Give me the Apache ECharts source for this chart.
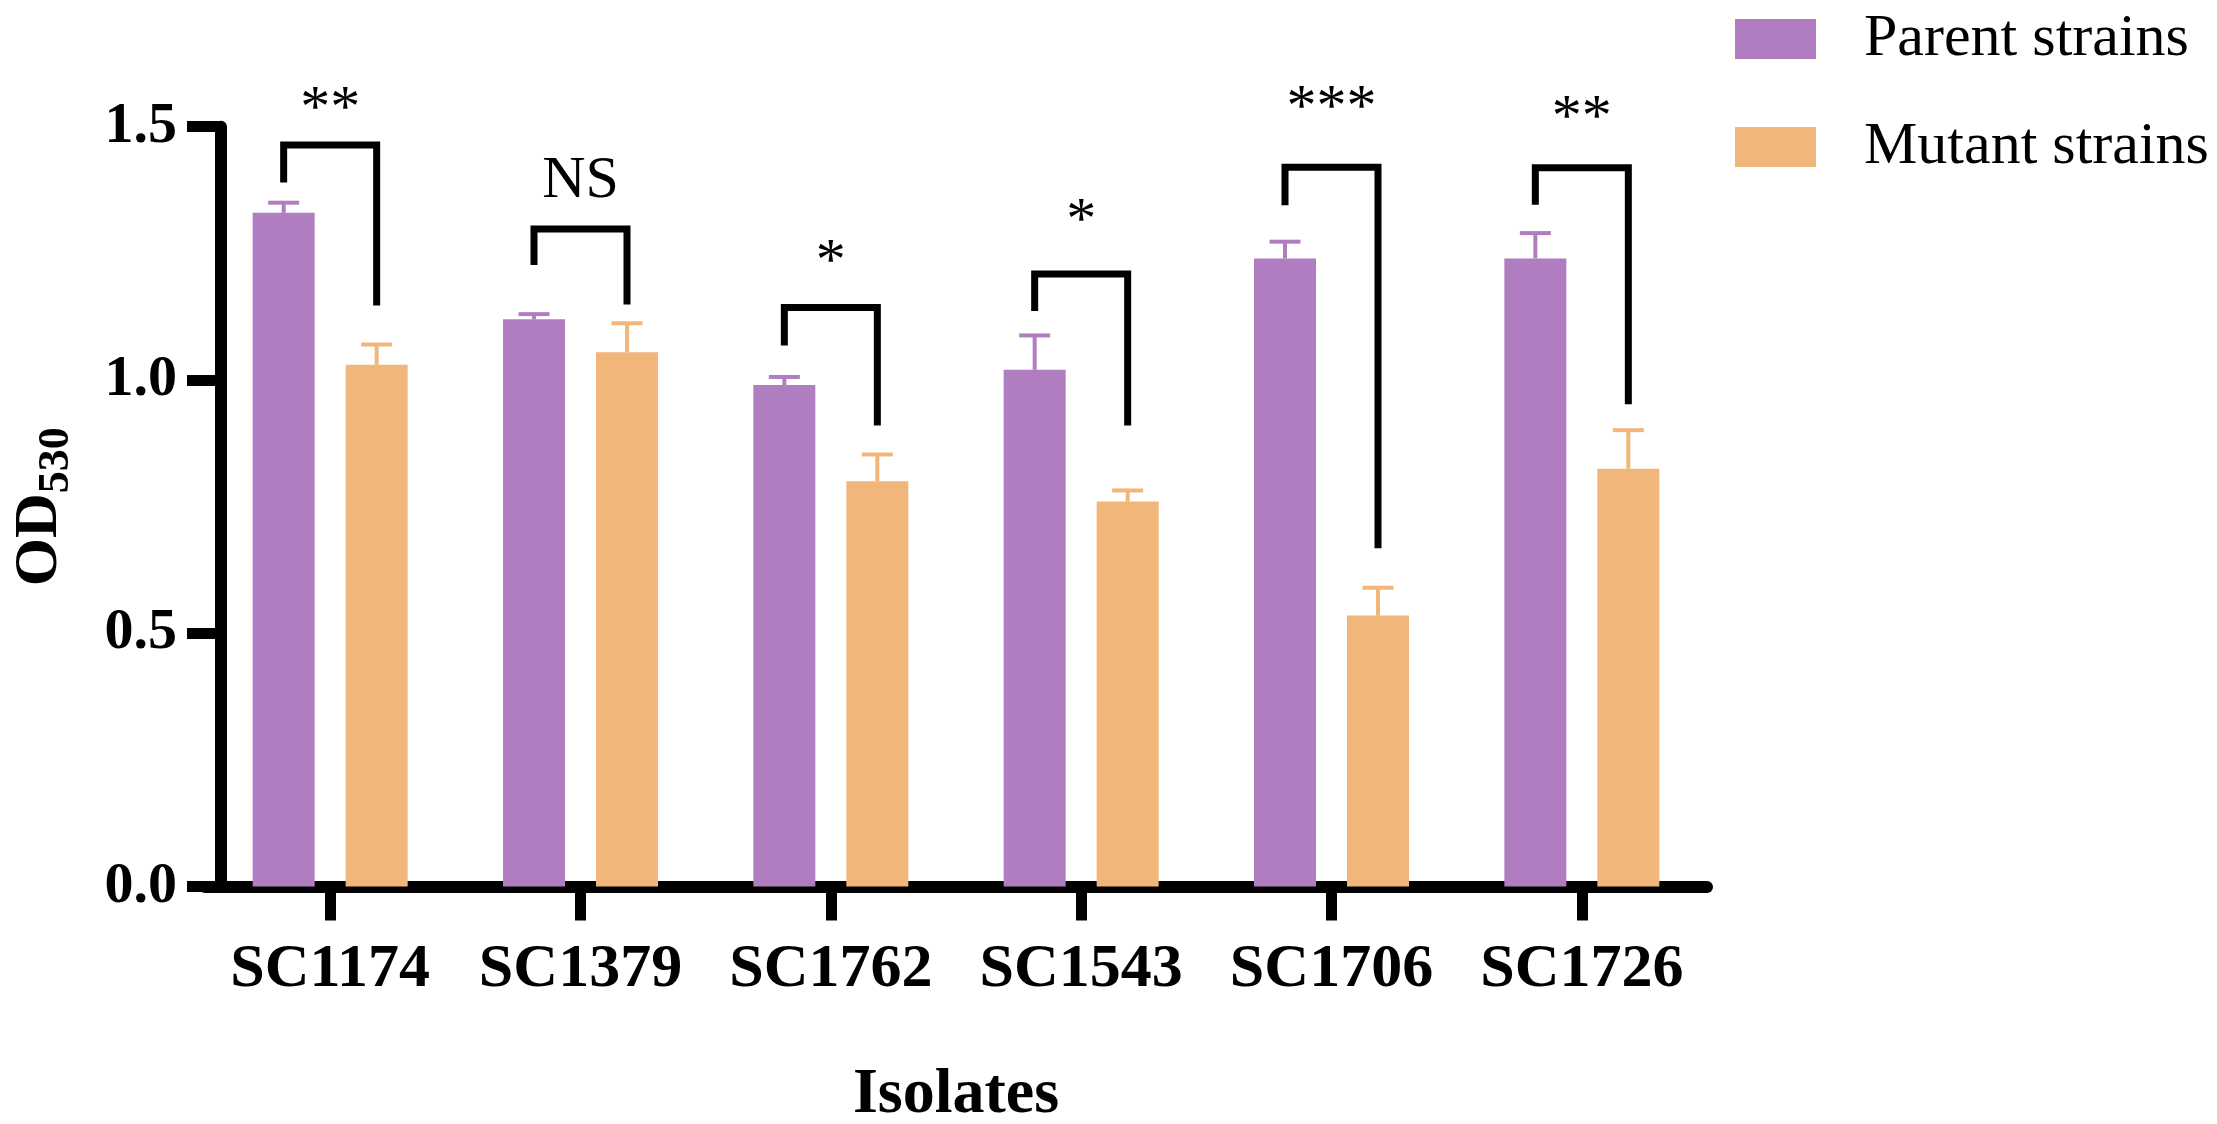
<!DOCTYPE html>
<html>
<head>
<meta charset="utf-8">
<script src="https://cdn.jsdelivr.net/npm/echarts@6/dist/echarts.min.js"></script>
<style>
html,body{margin:0;padding:0;background:#ffffff;}
#chart{width:2217px;height:1124px;}
</style>
</head>
<body>
<div id="chart"></div>
<script>
// ---- data ----
const categories = ['SC1174', 'SC1379', 'SC1762', 'SC1543', 'SC1706', 'SC1726'];
const seriesNames = ['Parent strains', 'Mutant strains'];
const parentValues = [1.33, 1.12, 0.99, 1.02, 1.24, 1.24];
const parentErrors = [0.02, 0.01, 0.016, 0.068, 0.033, 0.05];
const mutantValues = [1.03, 1.055, 0.80, 0.76, 0.535, 0.825];
const mutantErrors = [0.04, 0.057, 0.053, 0.022, 0.055, 0.076];
const yTicks = [0, 0.5, 1.0, 1.5];
// significance brackets (value units): left leg end, bracket top, right leg end, label level
const sigLabels = ['**', 'NS', '*', '*', '***', '**'];
const bracketLeft = [1.39, 1.227, 1.068, 1.136, 1.345, 1.346];
const bracketTop = [1.464, 1.298, 1.143, 1.209, 1.42, 1.419];
const bracketRight = [1.147, 1.149, 0.91, 0.91, 0.668, 0.952];
const labelLevel = [1.533, 1.392, 1.230, 1.312, 1.534, 1.515];

// ---- styles ----
const PURPLE = '#B07EC0';
const ORANGE = '#F0B67A';
const SERIF = '"Liberation Serif", "Times New Roman", serif';
const BAR_W = 62;
const BAR_OFF = BAR_W * 0.75; // half bar + half gap (barGap 50%)
const CAP_W = 31;

function errorRender(offset, color) {
  return function (params, api) {
    const c = api.value(0), v = api.value(1), e = api.value(2);
    const p0 = api.coord([c, v]);
    const p1 = api.coord([c, v + e]);
    const x = p0[0] + offset;
    return {
      type: 'group',
      children: [
        { type: 'line', shape: { x1: x, y1: p0[1], x2: x, y2: p1[1] }, style: { stroke: color, lineWidth: 4 } },
        { type: 'line', shape: { x1: x - CAP_W / 2, y1: p1[1], x2: x + CAP_W / 2, y2: p1[1] }, style: { stroke: color, lineWidth: 4 } }
      ]
    };
  };
}

function bracketRender(params, api) {
  const c = api.value(0);
  const pl = api.coord([c, api.value(1)]);
  const pt = api.coord([c, api.value(2)]);
  const pr = api.coord([c, api.value(3)]);
  const plab = api.coord([c, api.value(4)]);
  const xl = pl[0] - BAR_OFF, xr = pl[0] + BAR_OFF;
  return {
    type: 'group',
    children: [
      { type: 'polyline', shape: { points: [[xl, pl[1]], [xl, pt[1]], [xr, pt[1]], [xr, pr[1]]] },
        style: { stroke: '#000', lineWidth: 7, fill: null, lineJoin: 'miter', lineCap: 'butt' } },
      { type: 'text', style: { text: sigLabels[params.dataIndex], x: plab[0], y: plab[1], align: 'center', verticalAlign: 'middle',
        fill: '#000', fontSize: 60, fontFamily: SERIF } }
    ]
  };
}

const chart = echarts.init(document.getElementById('chart'), null, { renderer: 'canvas' });
chart.setOption({
  backgroundColor: '#ffffff',
  animation: false,
  grid: { left: 205, right: 510, top: 126.7, bottom: 237.4, containLabel: false, outerBoundsMode: 'none' },
  legend: {
    data: seriesNames,
    orient: 'vertical',
    left: 1730,
    top: 0,
    itemWidth: 81,
    itemHeight: 40,
    itemGap: 40,
    icon: 'rect',
    textStyle: { fontFamily: SERIF, fontSize: 60, lineHeight: 64, color: '#000', padding: [4, 0, 0, 43] }
  },
  xAxis: {
    type: 'category',
    data: categories,
    boundaryGap: true,
    offset: 6,
    axisLine: { show: true, lineStyle: { color: '#000', width: 12 } },
    axisTick: { show: true, alignWithLabel: true, length: 34, lineStyle: { color: '#000', width: 11 } },
    axisLabel: { interval: 0, margin: 46, fontFamily: SERIF, fontWeight: 'bold', fontSize: 62, color: '#000' },
    name: 'Isolates',
    nameLocation: 'middle',
    nameGap: 171,
    nameTextStyle: { fontFamily: SERIF, fontWeight: 'bold', fontSize: 64, color: '#000' }
  },
  yAxis: {
    type: 'value',
    min: yTicks[0],
    max: yTicks[yTicks.length - 1],
    interval: 0.5,
    offset: -16,
    axisLine: { show: true, lineStyle: { color: '#000', width: 12 } },
    axisTick: { show: true, length: 34, lineStyle: { color: '#000', width: 11 } },
    splitLine: { show: false },
    axisLabel: { margin: 44, formatter: v => v.toFixed(1), fontFamily: SERIF, fontWeight: 'bold', fontSize: 58, color: '#000' },
    name: '{a|OD}{b|530}',
    nameLocation: 'middle',
    nameRotate: 90,
    nameGap: 150,
    nameTextStyle: {
      rich: {
        a: { fontFamily: SERIF, fontWeight: 'bold', fontSize: 62, lineHeight: 62, verticalAlign: 'top', color: '#000' },
        b: { fontFamily: SERIF, fontWeight: 'bold', fontSize: 44, lineHeight: 44, padding: [26, 0, 0, 0], verticalAlign: 'top', color: '#000' }
      }
    }
  },
  series: [
    { name: seriesNames[0], type: 'bar', data: parentValues, barWidth: BAR_W, barGap: '50%', itemStyle: { color: PURPLE } },
    { name: seriesNames[1], type: 'bar', data: mutantValues, barWidth: BAR_W, barGap: '50%', itemStyle: { color: ORANGE } },
    { type: 'custom', renderItem: errorRender(-BAR_OFF, PURPLE), clip: false, z: 3,
      data: parentValues.map((v, i) => [i, v, parentErrors[i]]) },
    { type: 'custom', renderItem: errorRender(BAR_OFF, ORANGE), clip: false, z: 3,
      data: mutantValues.map((v, i) => [i, v, mutantErrors[i]]) },
    { type: 'custom', renderItem: bracketRender, clip: false, z: 4,
      data: categories.map((c, i) => [i, bracketLeft[i], bracketTop[i], bracketRight[i], labelLevel[i]]) }
  ]
});
</script>
</body>
</html>
